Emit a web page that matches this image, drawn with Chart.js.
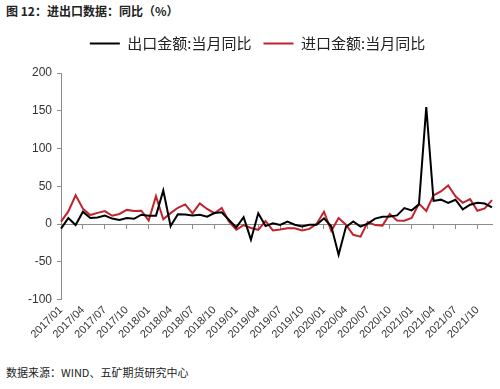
<!DOCTYPE html>
<html>
<head>
<meta charset="utf-8">
<script src="https://cdn.jsdelivr.net/npm/chart.js@4/dist/chart.umd.min.js"></script>
<style>
    body { margin: 0; width: 500px; height: 389px; background: #fff; position: relative; overflow: hidden; font-family: "Noto Sans CJK SC", sans-serif; }
    #title { position: absolute; left: 6px; top: 2px; font-size: 12px; font-weight: bold; color: #222; }
    #box { position: absolute; left: 0; top: 24px; width: 500px; height: 321px; }
    #source { position: absolute; left: 6px; top: 364px; font-size: 11px; color: #222; }
</style>
</head>
<body>
<div id="title">图 12：进出口数据：同比（%）</div>
<div id="box"><canvas id="chart"></canvas></div>
<div id="source">数据来源：WIND、五矿期货研究中心</div>
<script>
const categories = [
    "2017/01","2017/02","2017/03","2017/04","2017/05","2017/06","2017/07","2017/08","2017/09","2017/10","2017/11","2017/12",
    "2018/01","2018/02","2018/03","2018/04","2018/05","2018/06","2018/07","2018/08","2018/09","2018/10","2018/11","2018/12",
    "2019/01","2019/02","2019/03","2019/04","2019/05","2019/06","2019/07","2019/08","2019/09","2019/10","2019/11","2019/12",
    "2020/01","2020/02","2020/03","2020/04","2020/05","2020/06","2020/07","2020/08","2020/09","2020/10","2020/11","2020/12",
    "2021/01","2021/02","2021/03","2021/04","2021/05","2021/06","2021/07","2021/08","2021/09","2021/10","2021/11","2021/12"
];
const tickLabels = [
    "2017/01","2017/04","2017/07","2017/10","2018/01","2018/04","2018/07","2018/10","2019/01","2019/04",
    "2019/07","2019/10","2020/01","2020/04","2020/07","2020/10","2021/01","2021/04","2021/07","2021/10"
];
const exportYoY = [
    -6.1, 7.9, -1.3, 16.4, 8.0, 8.7, 11.3, 7.2, 5.5, 8.1, 6.9, 12.3,
    10.9, 11.1, 44.5, -2.7, 12.9, 12.6, 11.3, 12.2, 9.8, 14.5, 15.6, 5.4,
    -4.4, 9.1, -20.7, 14.2, -2.7, 1.1, -1.3, 3.3, -1.0, -3.2, -0.9, -1.1,
    7.6, -3.0, -40.6, -4.0, 3.5, -3.3, 0.5, 7.2, 9.5, 9.9, 11.4, 21.1,
    18.1, 26.0, 154.9, 30.6, 32.3, 27.9, 32.2, 19.3, 25.6, 28.1, 27.1, 22.0
];
const importYoY = [
    3.1, 16.7, 38.1, 20.3, 11.9, 14.8, 17.2, 11.0, 13.3, 18.7, 17.2, 17.7,
    4.5, 36.9, 6.3, 14.4, 21.5, 26.0, 14.1, 27.3, 20.0, 14.3, 21.4, 3.0,
    -7.6, -1.5, -5.2, -7.6, 4.0, -8.5, -7.3, -5.6, -5.6, -8.5, -6.4, 0.3,
    16.3, -9.0, 8.0, -0.9, -14.2, -16.7, 2.7, -1.4, -2.1, 13.2, 4.7, 4.5,
    8.0, 27.0, 17.3, 38.1, 43.1, 51.1, 36.7, 28.1, 33.1, 17.6, 20.6, 31.7
];

const axisGray = "#8c8c8c";
const tickFont = { family: "'Liberation Sans', Arial, sans-serif", size: 12 };

new Chart(document.getElementById("chart"), {
    type: "line",
    data: {
        labels: categories,
        datasets: [
            {
                label: "出口金额:当月同比",
                data: exportYoY,
                borderColor: "#000000",
                backgroundColor: "#000000",
                borderWidth: 2,
                pointRadius: 0,
                tension: 0
            },
            {
                label: "进口金额:当月同比",
                data: importYoY,
                borderColor: "#c0232c",
                backgroundColor: "#c0232c",
                borderWidth: 2,
                pointRadius: 0,
                tension: 0
            }
        ]
    },
    options: {
        responsive: true,
        maintainAspectRatio: false,
        animation: false,
        layout: { padding: { left: 23, right: 8, top: 0, bottom: 0 } },
        plugins: {
            legend: {
                position: "top",
                align: "center",
                labels: {
                    usePointStyle: true,
                    pointStyle: "line",
                    pointStyleWidth: 30,
                    color: "#222",
                    padding: 12,
                    font: { family: "'Noto Sans CJK SC', sans-serif", size: 15 }
                }
            },
            tooltip: { enabled: false }
        },
        scales: {
            x: {
                type: "category",
                position: "bottom",
                offset: false,
                afterFit: axis => { axis.paddingRight = 0; },
                border: { display: false },
                grid: { display: false, drawTicks: false },
                ticks: {
                    autoSkip: false,
                    minRotation: 45,
                    maxRotation: 45,
                    padding: 4,
                    color: "#333",
                    font: { family: tickFont.family, size: 11 },
                    callback: (v, i) => tickLabels.includes(categories[i]) ? categories[i] : ""
                }
            },
            x0: {
                type: "category",
                labels: categories,
                position: { y: 0 },
                offset: false,
                afterFit: axis => { axis.paddingRight = 0; },
                border: { display: true, color: axisGray, width: 1 },
                grid: {
                    drawOnChartArea: false,
                    drawTicks: true,
                    tickLength: 4,
                    color: ctx => ctx.index % 3 === 0 ? axisGray : "rgba(0,0,0,0)"
                },
                ticks: { display: false, autoSkip: false }
            },
            y: {
                min: -100,
                max: 200,
                afterFit: axis => { axis.paddingTop = 0; },
                border: { display: true, color: axisGray, width: 1 },
                grid: { drawOnChartArea: false, drawTicks: true, tickLength: 4, color: axisGray },
                ticks: { stepSize: 50, color: "#333", font: tickFont, padding: 5 }
            }
        }
    },
    plugins: [{
        id: "legendGap",
        beforeInit(chart) {
            const fit = chart.legend.fit;
            chart.legend.fit = function () {
                fit.bind(chart.legend)();
                this.height += 12;
            };
        }
    }]
});
</script>
</body>
</html>
